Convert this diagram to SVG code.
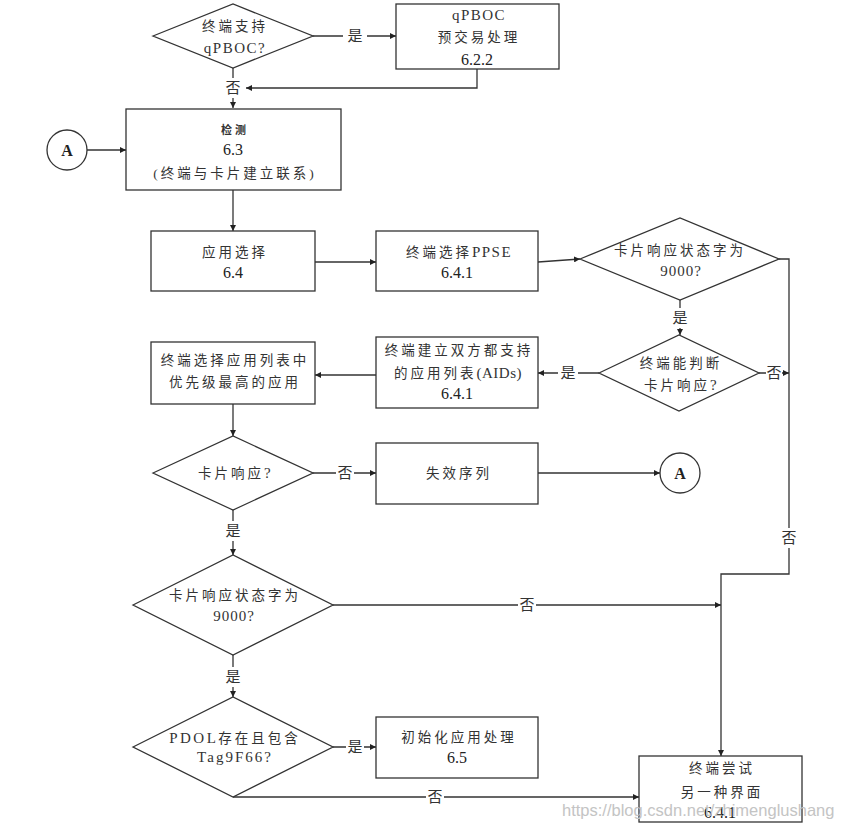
<svg xmlns="http://www.w3.org/2000/svg" width="845" height="828" viewBox="0 0 845 828">
<style>
.shape{fill:#fff;stroke:#333;stroke-width:1.3}
.t{font-family:"Liberation Serif","Noto Sans CJK SC",serif;font-size:13.5px;fill:#333;letter-spacing:3px;text-anchor:middle}
.l{font-size:15px;letter-spacing:1.5px}
.n{font-family:"Liberation Serif","Noto Sans CJK SC",serif;font-size:16px;fill:#222;text-anchor:middle}
.lb{font-family:"Liberation Serif","Noto Sans CJK SC",serif;font-size:15px;fill:#333;text-anchor:middle}
.c{fill:none;stroke:#333;stroke-width:1.3}
.wm{font-family:"Liberation Sans",Arial,sans-serif;font-size:16.5px;fill:#c4c4c4}
</style>
<defs>
<marker id="ah" viewBox="0 0 10 10" refX="10" refY="5" markerWidth="6" markerHeight="6" markerUnits="userSpaceOnUse" orient="auto">
<path d="M0,0 L10,5 L0,10 z" fill="#222"/>
</marker>
</defs>
<rect width="845" height="828" fill="#fff"/>

<g id="connectors">
<path class="c" d="M313,36 H343 M367,36 H396" marker-end="url(#ah)"/>
<path class="c" d="M477,69 V88 H246" marker-end="url(#ah)"/>
<path class="c" d="M233,68 V78 M233,98 V108" marker-end="url(#ah)"/>
<path class="c" d="M87,150 H126" marker-end="url(#ah)"/>
<path class="c" d="M233,190 V231" marker-end="url(#ah)"/>
<path class="c" d="M315,262 H376" marker-end="url(#ah)"/>
<path class="c" d="M538,262 L580,259" marker-end="url(#ah)"/>
<path class="c" d="M680,300 V308 M680,328 V335" marker-end="url(#ah)"/>
<path class="c" d="M779,259 H789 V528 M789,548 V574 H721 V756" marker-end="url(#ah)"/>
<path class="c" d="M759,373 H766 M782,373 H789" marker-end="url(#ah)"/>
<path class="c" d="M599,373 H578 M558,373 H538" marker-end="url(#ah)"/>
<path class="c" d="M376,375 H315" marker-end="url(#ah)"/>
<path class="c" d="M233,404 V436" marker-end="url(#ah)"/>
<path class="c" d="M313,473 H336 M354,473 H376" marker-end="url(#ah)"/>
<path class="c" d="M538,473 H660" marker-end="url(#ah)"/>
<path class="c" d="M233,510 V521 M233,541 V555" marker-end="url(#ah)"/>
<path class="c" d="M333,605 H518 M536,605 H721" marker-end="url(#ah)"/>
<path class="c" d="M233,655 V667 M233,687 V697" marker-end="url(#ah)"/>
<path class="c" d="M333,747 H346 M364,747 H376" marker-end="url(#ah)"/>
<path class="c" d="M233,797 H426 M444,797 H639" marker-end="url(#ah)"/>
<text class="lb" x="355" y="41">是</text>
<text class="lb" x="233" y="93">否</text>
<text class="lb" x="680" y="323">是</text>
<text class="lb" x="774" y="378">否</text>
<text class="lb" x="789" y="543">否</text>
<text class="lb" x="568" y="378">是</text>
<text class="lb" x="345" y="478">否</text>
<text class="lb" x="233" y="536">是</text>
<text class="lb" x="527" y="610">否</text>
<text class="lb" x="233" y="682">是</text>
<text class="lb" x="355" y="752">是</text>
<text class="lb" x="435" y="802">否</text>
</g>

<g id="d1">
<polygon class="shape" points="153,36 233,4 313,36 233,68"/>
<text class="t" x="235" y="31">终端支持</text>
<text class="t" x="235" y="53"><tspan class="l">qPBOC?</tspan></text>
</g>
<g id="b1">
<rect class="shape" x="396" y="4" width="163" height="65"/>
<text class="t" x="479" y="20"><tspan class="l">qPBOC</tspan></text>
<text class="t" x="479" y="42">预交易处理</text>
<text class="n" x="477" y="65">6.2.2</text>
</g>
<g id="b2">
<rect class="shape" x="126" y="109" width="215" height="81"/>
<text class="t" x="235" y="134" style="font-size:11px;font-weight:bold">检测</text>
<text class="n" x="233" y="155">6.3</text>
<text class="t" x="235" y="178">(终端与卡片建立联系)</text>
</g>
<g id="a1">
<circle class="shape" cx="67" cy="150" r="20"/>
<text class="n" x="67" y="156" style="font-weight:bold">A</text>
</g>
<g id="b3">
<rect class="shape" x="151" y="231" width="164" height="60"/>
<text class="t" x="235" y="257">应用选择</text>
<text class="n" x="233" y="278">6.4</text>
</g>
<g id="b4">
<rect class="shape" x="376" y="231" width="162" height="60"/>
<text class="t" x="459" y="257">终端选择<tspan class="l">PPSE</tspan></text>
<text class="n" x="457" y="278">6.4.1</text>
</g>
<g id="d2">
<polygon class="shape" points="580,259 680,218 779,259 680,300"/>
<text class="t" x="680" y="255">卡片响应状态字为</text>
<text class="t" x="681" y="276"><tspan class="l" style="letter-spacing:1px">9000?</tspan></text>
</g>
<g id="d3">
<polygon class="shape" points="599,373 679,335 759,373 679,411"/>
<text class="t" x="681" y="368">终端能判断</text>
<text class="t" x="681" y="390">卡片响应<tspan class="l">?</tspan></text>
</g>
<g id="b5">
<rect class="shape" x="376" y="337" width="162" height="71"/>
<text class="t" x="459" y="355">终端建立双方都支持</text>
<text class="t" x="458" y="378">的应用列表<tspan class="l" style="letter-spacing:0.5px">(AIDs)</tspan></text>
<text class="n" x="457" y="399">6.4.1</text>
</g>
<g id="b6">
<rect class="shape" x="151" y="342" width="164" height="62"/>
<text class="t" x="235" y="365">终端选择应用列表中</text>
<text class="t" x="235" y="387">优先级最高的应用</text>
</g>
<g id="d4">
<polygon class="shape" points="153,473 233,436 313,473 233,510"/>
<text class="t" x="235" y="478">卡片响应<tspan class="l">?</tspan></text>
</g>
<g id="b7">
<rect class="shape" x="376" y="443" width="162" height="61"/>
<text class="t" x="459" y="478">失效序列</text>
</g>
<g id="a2">
<circle class="shape" cx="680" cy="473" r="20"/>
<text class="n" x="680" y="479" style="font-weight:bold">A</text>
</g>
<g id="d5">
<polygon class="shape" points="133,605 233,555 333,605 233,655"/>
<text class="t" x="235" y="600">卡片响应状态字为</text>
<text class="t" x="234" y="621"><tspan class="l" style="letter-spacing:1px">9000?</tspan></text>
</g>
<g id="d6">
<polygon class="shape" points="133,747 233,697 333,747 233,797"/>
<text class="t" x="235" y="743"><tspan class="l" style="letter-spacing:2.5px">PDOL</tspan>存在且包含</text>
<text class="t" x="235" y="762"><tspan class="l" style="letter-spacing:2px">Tag9F66?</tspan></text>
</g>
<g id="b8">
<rect class="shape" x="376" y="717" width="162" height="61"/>
<text class="t" x="459" y="742">初始化应用处理</text>
<text class="n" x="457" y="763">6.5</text>
</g>
<g id="b9">
<rect class="shape" x="639" y="756" width="163" height="66"/>
<text class="t" x="722" y="773">终端尝试</text>
<text class="t" x="722" y="797">另一种界面</text>
<text class="n" x="720" y="818">6.4.1</text>
</g>
<text class="wm" x="562" y="816">https://blog.csdn.net/zhimenglushang</text>
</svg>
